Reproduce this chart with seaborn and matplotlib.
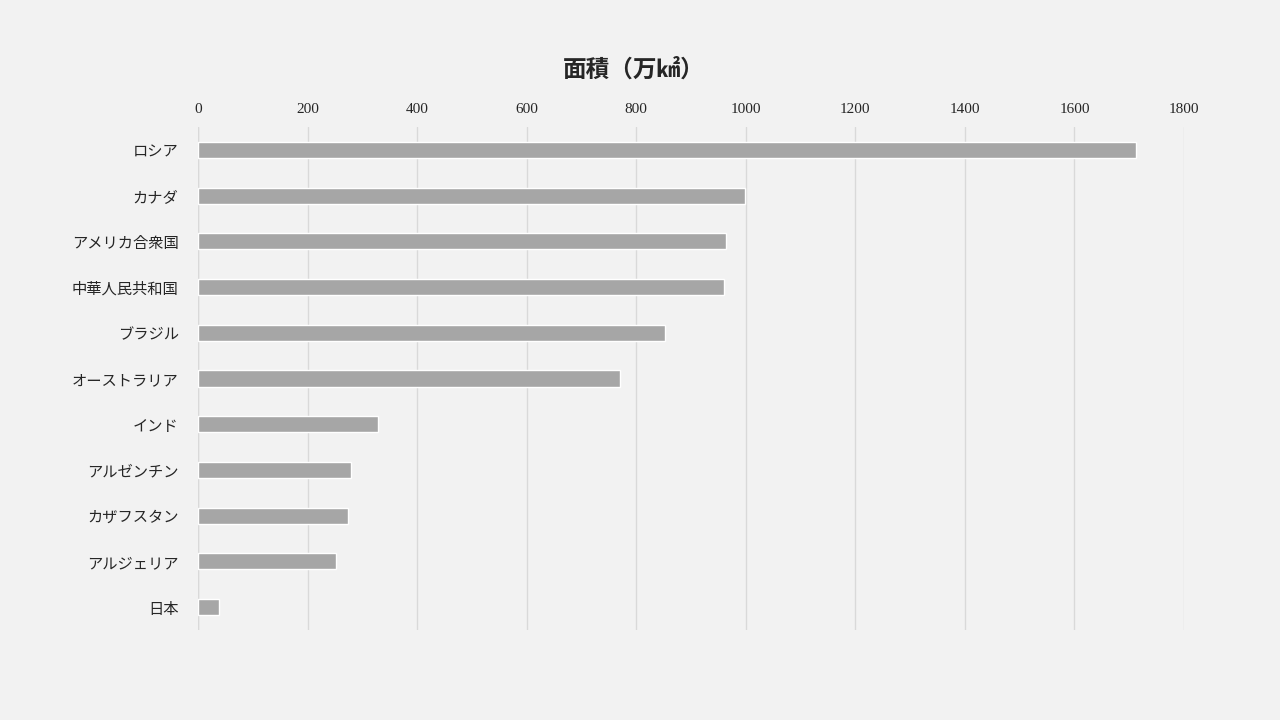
import matplotlib
matplotlib.use('Agg')
import matplotlib.pyplot as plt
import seaborn as sns
import pandas as pd

countries = ['ロシア', 'カナダ', 'アメリカ合衆国', '中華人民共和国', 'ブラジル', 'オーストラリア',
             'インド', 'アルゼンチン', 'カザフスタン', 'アルジェリア', '日本']
areas = [1712, 998, 964, 960, 852, 770, 329, 279, 274, 252, 38]
xticks = [0, 200, 400, 600, 800, 1000, 1200, 1400, 1600, 1800]

sns.set_theme(style='white')
plt.rcParams['font.family'] = ['Noto Sans CJK JP', 'DejaVu Sans']

df = pd.DataFrame({'country': countries, 'area': areas})

fig = plt.figure(figsize=(12.8, 7.2), dpi=100, facecolor='#f2f2f2')
ax = fig.add_axes([198/1280, 1 - 630/720, (1184-198)/1280, (630-127)/720])
ax.set_facecolor('#f2f2f2')
sns.barplot(data=df, y='country', x='area', color='#a6a6a6', width=0.35,
            saturation=1, ax=ax, zorder=3)
ax.set_xlim(0, 1800)
ax.set_xticks(xticks)
ax.xaxis.tick_top()
ax.tick_params(axis='x', length=0, pad=8, labelsize=11)
ax.tick_params(axis='y', length=0, pad=14, labelsize=11)
for lab in ax.get_xticklabels():
    lab.set_family(['Liberation Serif', 'DejaVu Serif'])
ax.grid(axis='x', color='#d9d9d9', linewidth=1, zorder=0)
ax.set_xlabel('')
ax.set_ylabel('')
for s in ax.spines.values():
    s.set_visible(False)
ax.axvline(0, color='#d9d9d9', linewidth=1, zorder=1)
fig.text(0.495, 1 - 70/720, '面積（万㎢）', ha='center', va='center', fontsize=17,
         fontweight='bold')
fig.savefig('out.png', dpi=100, facecolor='#f2f2f2')
